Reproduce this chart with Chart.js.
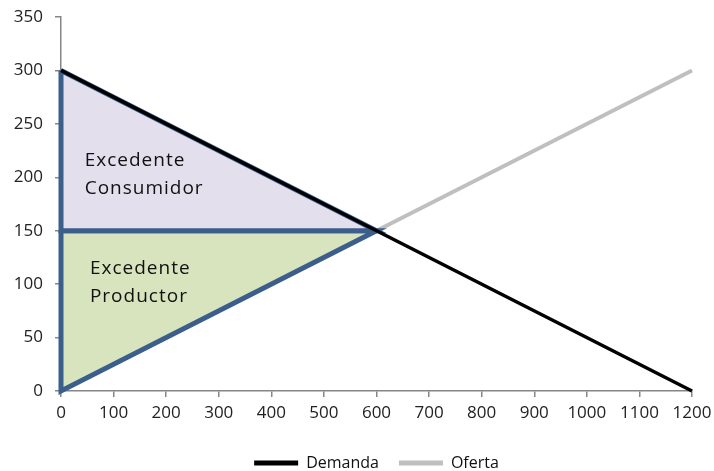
<!DOCTYPE html>
<html>
<head>
<meta charset="utf-8">
<script src="https://cdn.jsdelivr.net/npm/chart.js@4/dist/chart.umd.min.js"></script>
<style>
html,body{margin:0;padding:0;background:#fff;overflow:hidden;}
#wrap{width:714px;height:471px;overflow:hidden;}
</style>
</head>
<body>
<div id="wrap"><canvas id="c" width="714" height="481"></canvas></div>
<script>
// Data
const quantity = [0, 600, 1200];
const demand = [300, 150, 0];
const supply = [0, 150, 300];
const consumerX = [0, 0, 600, 0];
const consumerY = [300, 150, 150, 300];
const producerX = [0, 0, 600, 0];
const producerY = [150, 0, 150, 150];
const xTicks = [0,100,200,300,400,500,600,700,800,900,1000,1100,1200];
const yTicks = [0,50,100,150,200,250,300,350];
const areaLabels = [['Excedente','Consumidor'],['Excedente','Productor']];
const areaLabelX = [45, 55];
const areaLabelY = [216, 115];

const pts = (xs, ys) => xs.map((x, i) => ({x: x, y: ys[i]}));
const FONT = "'Open Sans', sans-serif";

const labelPlugin = {
  id: 'areaLabels',
  afterDatasetsDraw(chart) {
    const ctx = chart.ctx;
    const xs = chart.scales.x, ys = chart.scales.y;
    ctx.save();
    ctx.fillStyle = '#111';
    ctx.font = "19px " + FONT;
    try { ctx.letterSpacing = '1px'; } catch (e) {}
    ctx.textBaseline = 'middle';
    ctx.textAlign = 'left';
    areaLabels.forEach((lines, i) => {
      const px = xs.getPixelForValue(areaLabelX[i]);
      const py = ys.getPixelForValue(areaLabelY[i]);
      lines.forEach((t, j) => ctx.fillText(t, px, py + j * 28));
    });
    ctx.restore();
  }
};

new Chart(document.getElementById('c'), {
  type: 'scatter',
  data: {
    datasets: [
      {label: 'Demanda', data: pts(quantity, demand), showLine: true, borderColor: '#000', backgroundColor: '#000', borderWidth: 3.5, pointRadius: 0, order: 0, clip: 8},
      {label: 'cons', data: pts(consumerX, consumerY), showLine: true, borderColor: '#3b5e8c', backgroundColor: '#e4dfec', fill: 'shape', borderWidth: 5, pointRadius: 0, order: 1, borderJoinStyle: 'miter', clip: 8},
      {label: 'prod', data: pts(producerX, producerY), showLine: true, borderColor: '#3b5e8c', backgroundColor: '#d7e4bd', fill: 'shape', borderWidth: 5, pointRadius: 0, order: 1, borderJoinStyle: 'miter', clip: 8},
      {label: 'Oferta', data: pts(quantity, supply), showLine: true, borderColor: '#bfbfbf', backgroundColor: '#bfbfbf', borderWidth: 4, pointRadius: 0, order: 2, clip: 8}
    ]
  },
  options: {
    responsive: false,
    animation: false,
    layout: {padding: {left: 0, right: 0, top: 0, bottom: 0}},
    plugins: {
      tooltip: {enabled: false},
      legend: {
        position: 'bottom',
        fullSize: false,
        labels: {
          font: {family: FONT, size: 16},
          color: '#111',
          boxWidth: 44,
          boxHeight: 5,
          padding: 20,
          filter: (item) => item.text === 'Demanda' || item.text === 'Oferta',
          generateLabels: (chart) => {
            const items = Chart.defaults.plugins.legend.labels.generateLabels(chart);
            items.forEach(it => { it.lineWidth = 0; it.fillStyle = it.strokeStyle; });
            return items;
          }
        }
      }
    },
    scales: {
      x: {
        type: 'linear', min: 0, max: 1200,
        afterBuildTicks: (s) => { s.ticks = xTicks.map(v => ({value: v})); },
        afterFit: (s) => { s.height = 44; s.paddingRight = 22; },
        ticks: {font: {family: FONT, size: 17}, color: '#222', padding: 6, maxRotation: 0, callback: (v) => String(v)},
        grid: {drawOnChartArea: false, drawTicks: true, tickLength: 6, color: '#868686', lineWidth: 1.5},
        border: {color: '#868686', width: 1.5}
      },
      y: {
        type: 'linear', min: 0, max: 350,
        afterBuildTicks: (s) => { s.ticks = yTicks.map(v => ({value: v})); },
        afterFit: (s) => { s.width = 61; s.paddingTop = 17; },
        ticks: {font: {family: FONT, size: 17}, color: '#222', padding: 12, callback: (v) => String(v)},
        grid: {drawOnChartArea: false, drawTicks: true, tickLength: 6, color: '#868686', lineWidth: 1.5},
        border: {color: '#868686', width: 1.5}
      }
    }
  },
  plugins: [labelPlugin]
});
</script>
</body>
</html>
